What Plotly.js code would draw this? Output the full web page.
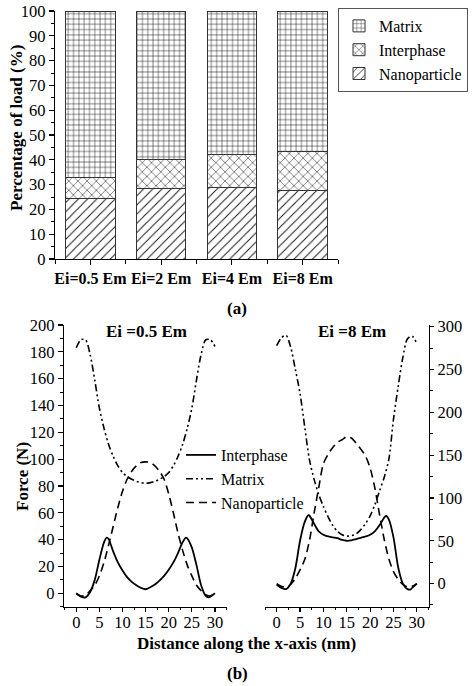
<!DOCTYPE html>
<html>
<head>
<meta charset="utf-8">
<script src="https://cdn.plot.ly/plotly-3.0.1.min.js"></script>
<style>html,body{margin:0;padding:0;background:#fff;}#chart{width:474px;height:686px;}</style>
</head>
<body>
<div id="chart"></div>
<script>
// ---------- Panel (a): stacked percentages ----------
const categories = ['Ei=0.5 Em', 'Ei=2 Em', 'Ei=4 Em', 'Ei=8 Em'];
const categoryPos = [0, 1, 2, 3];
const nanoparticlePct = [24.3, 28.3, 28.7, 27.8];
const interphasePct = [8.4, 11.9, 13.6, 15.7];
const matrixPct = [67.3, 59.8, 57.7, 56.5];

// ---------- Panel (b): force along x (left: Ei=0.5 Em, right: Ei=8 Em) ----------
const xMatrixA = [0,1,2,3,4,5,6,7,8,9,10,11,12,13,14,15,16,17,18,19,20,21,22,23,24,25,26,27,28,29,30];
const matrixA = [183,189,189,178,159,138,123,111,102,95,90,87,85,83.5,82.5,82,82.5,83.5,85,87,90,95,102,111,123,138,159,178,189,189,184];
const xNanoA = [0,1,2,3,4,5,6,7,8,9,10,11,12,13,14,15,16,17,18,19,20,21,22,23,24,25,26,27,28,29,30];
const nanoA = [0,-2,-1.5,2,6,13,23,36,50,64,76,85,91,95,97.5,98,97.5,95,91,85,74,60,45,32,21,13,6,2,-1,-2,0];
const xInterA = [0,1,2,3,4,5,6,6.6,7,8,9,10,11,12,13,14,15,16,17,18,19,20,21,22,23,23.7,24,25,26,27,28,28.6,29,30];
const interA = [0,-2.5,-3,1,10,25,38,41.5,40.5,31,23,17,12,8.5,6,4,3,4.5,6.5,9.5,13,17.5,23,30,38,41.5,41,34,21,6,-2,-3,-2.5,0];

const xMatrixB = [0,1,2,3,4,5,6,7,8,9,10,11,12,13,14,15,16,17,18,19,20,21,22,23,24,25,26,27,28,29,30];
const matrixB = [278,287,290,276,250,222,183,145,122,104,90,78,68,61,57,55.5,56,58,63,70,79,92,108,124,145,192,230,264,286,289,280];
const xNanoB = [0,1,2,3,4,5,6,7,8,9,10,11,12,13,14,15,16,17,18,19,20,21,22,23,24,25,26,27,28,29,30];
const nanoB = [0,-3,-4,-1,6,16,28,50,82,112,140,151,159,165,168,171.5,170,164,157,149,135,112,81,52,29,14,5,-1,-4,-3,0];
const xInterB = [0,1,2,3,4,5,6,6.8,7,8,9,10,11,12,13,14,15,16,17,18,19,20,21,22,23,23.4,24,25,26,27,28,28.6,29,30];
const interB = [-1,-5,-6.5,0,18,50,72,80,79.5,70,61,57,55,54,53,51,50,50.5,52,53.5,55,57,61,68,77,79,75,54,19,0,-6.5,-7,-5,0];

const W = 474, H = 686;
const px = v => v / W;
const py = v => 1 - v / H;
const FONT = "'Liberation Serif', 'Times New Roman', Times, serif";

function barTrace(name, y, shape, size, solidity) {
  return {
    type: 'bar', name: name, x: categoryPos, y: y, width: 0.7,
    xaxis: 'x', yaxis: 'y', legend: 'legend',
    marker: {
      color: 'white',
      line: {color: '#333', width: 1},
      pattern: {shape: shape, size: size, solidity: solidity, fgcolor: '#111', bgcolor: 'white', fillmode: 'replace'}
    },
    hoverinfo: 'skip'
  };
}

const lineInter = {color: '#000', width: 1.8, shape: 'spline', smoothing: 0.8};
const lineMatrix = {color: '#000', width: 1.6, dash: '7px,3px,2px,3px,2px,3px', shape: 'spline', smoothing: 0.8};
const lineNano = {color: '#000', width: 1.6, dash: '8px,5px', shape: 'spline', smoothing: 0.8};

const data = [
  barTrace('Nanoparticle', nanoparticlePct, '/', 6.5, 0.15),
  barTrace('Interphase', interphasePct, 'x', 6.5, 0.15),
  barTrace('Matrix', matrixPct, '+', 5.3, 0.18),
  {type: 'scatter', mode: 'lines', name: 'Interphase', x: xInterA, y: interA, xaxis: 'x2', yaxis: 'y2', line: lineInter, legend: 'legend2', legendgroup: 'i'},
  {type: 'scatter', mode: 'lines', name: 'Matrix', x: xMatrixA, y: matrixA, xaxis: 'x2', yaxis: 'y2', line: lineMatrix, legend: 'legend2', legendgroup: 'm'},
  {type: 'scatter', mode: 'lines', name: 'Nanoparticle', x: xNanoA, y: nanoA, xaxis: 'x2', yaxis: 'y2', line: lineNano, legend: 'legend2', legendgroup: 'n'},
  {type: 'scatter', mode: 'lines', name: 'Interphase', x: xInterB, y: interB, xaxis: 'x3', yaxis: 'y3', line: lineInter, showlegend: false, legendgroup: 'i'},
  {type: 'scatter', mode: 'lines', name: 'Matrix', x: xMatrixB, y: matrixB, xaxis: 'x3', yaxis: 'y3', line: lineMatrix, showlegend: false, legendgroup: 'm'},
  {type: 'scatter', mode: 'lines', name: 'Nanoparticle', x: xNanoB, y: nanoB, xaxis: 'x3', yaxis: 'y3', line: lineNano, showlegend: false, legendgroup: 'n'},
  // empty traces so the tick-only overlay axes get drawn
  {type: 'scatter', mode: 'lines', x: [], y: [], xaxis: 'x4', yaxis: 'y2', showlegend: false, hoverinfo: 'skip'},
  {type: 'scatter', mode: 'lines', x: [], y: [], xaxis: 'x5', yaxis: 'y3', showlegend: false, hoverinfo: 'skip'}
];

const tickFont = {family: FONT, size: 16.5, color: '#000'};
const axisBase = {
  showline: true, linecolor: '#000', linewidth: 1.2, showgrid: false, zeroline: false,
  ticks: 'outside', ticklen: 5, tickwidth: 1.2, tickcolor: '#000',
  tickfont: tickFont, automargin: false, fixedrange: true
};
const rangeXA = [-2.65, 32.6];
const rangeXB = [-2.5, 32.6];
const xMinor = {dtick: 2.5, tick0: 0, ticklen: 2.5, tickwidth: 1, tickcolor: '#000', ticks: 'outside'};

const layout = {
  width: W, height: H,
  margin: {l: 0, r: 0, t: 0, b: 0},
  paper_bgcolor: 'white', plot_bgcolor: 'rgba(0,0,0,0)',
  barmode: 'stack', bargap: 0.3,
  font: {family: FONT, color: '#000'},
  xaxis: Object.assign({}, axisBase, {
    domain: [px(55), px(338)], anchor: 'y', range: [-0.5, 3.5],
    tickvals: categoryPos, ticktext: categories.map(c => '<b>' + c + '</b>'),
    tickfont: {family: FONT, size: 16, color: '#000'},
    minor: {dtick: 0.5, tick0: 0, ticklen: 4, tickwidth: 1, tickcolor: '#000', ticks: 'outside'}
  }),
  yaxis: Object.assign({}, axisBase, {
    domain: [py(259), py(11)], anchor: 'x', range: [0, 100], dtick: 10,
    minor: {dtick: 5, ticklen: 3, tickwidth: 1, tickcolor: '#000', ticks: 'outside'}
  }),
  // label axes (no ticks, so labels sit close to the line)
  xaxis2: Object.assign({}, axisBase, {
    domain: [px(64), px(227)], anchor: 'y2', range: rangeXA, dtick: 5, tick0: 0, ticks: ''
  }),
  xaxis3: Object.assign({}, axisBase, {
    domain: [px(265), px(429)], anchor: 'y3', range: rangeXB, dtick: 5, tick0: 0, ticks: ''
  }),
  // tick-only overlay axes
  xaxis4: Object.assign({}, axisBase, {
    overlaying: 'x2', anchor: 'y2', range: rangeXA, dtick: 5, tick0: 0, ticklen: 4,
    showticklabels: false, minor: xMinor
  }),
  xaxis5: Object.assign({}, axisBase, {
    overlaying: 'x3', anchor: 'y3', range: rangeXB, dtick: 5, tick0: 0, ticklen: 4,
    showticklabels: false, minor: xMinor
  }),
  yaxis2: Object.assign({}, axisBase, {
    domain: [py(606.7), py(325)], anchor: 'x2', range: [-10, 200], dtick: 20, tick0: 0, ticklen: 5,
    minor: {dtick: 10, tick0: 0, ticklen: 3, tickwidth: 1, tickcolor: '#000', ticks: 'outside'}
  }),
  yaxis3: Object.assign({}, axisBase, {
    domain: [py(606.7), py(325)], anchor: 'x3', side: 'right', range: [-27, 302], dtick: 50, tick0: 0, ticklen: 4,
    minor: {dtick: 25, tick0: 0, ticklen: 2.5, tickwidth: 1, tickcolor: '#000', ticks: 'outside'}
  }),
  legend: {
    x: px(338), y: py(8), xanchor: 'left', yanchor: 'top',
    traceorder: 'reversed', bgcolor: 'white', bordercolor: '#555', borderwidth: 1,
    font: {family: FONT, size: 16, color: '#000'}, tracegroupgap: 0
  },
  legend2: {
    x: px(181), y: py(438), xanchor: 'left', yanchor: 'top',
    traceorder: 'normal', bgcolor: 'rgba(0,0,0,0)', borderwidth: 0,
    font: {family: FONT, size: 16, color: '#000'}, tracegroupgap: 0
  },
  annotations: [
    {text: '<b>Percentage of load (%)</b>', x: px(17), y: py(128), textangle: -90},
    {text: '<b>(a)</b>', x: px(237), y: py(308)},
    {text: '<b>Ei =0.5 Em</b>', x: px(146), y: py(331.7)},
    {text: '<b>Ei =8 Em</b>', x: px(352), y: py(331.7)},
    {text: '<b>Force (N)</b>', x: px(22), y: py(477), textangle: -90},
    {text: '<b>Distance along the x-axis (nm)</b>', x: px(247), y: py(643)},
    {text: '<b>(b)</b>', x: px(237), y: py(673)}
  ].map(a => Object.assign({xref: 'paper', yref: 'paper', xanchor: 'center', yanchor: 'middle', showarrow: false,
    font: {family: FONT, size: 17, color: '#000'}}, a))
};

Plotly.newPlot('chart', data, layout, {staticPlot: true, displayModeBar: false});
</script>
</body>
</html>
